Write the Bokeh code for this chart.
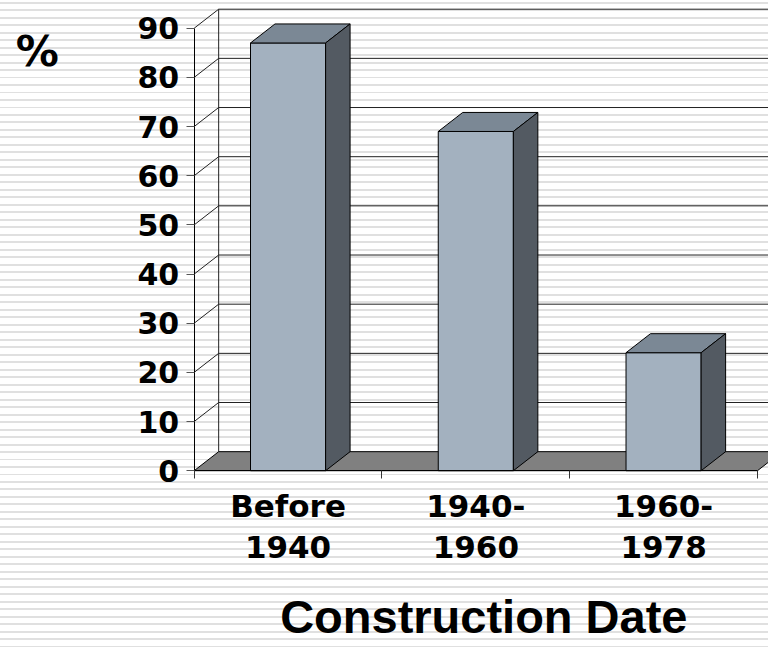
import numpy as np
from bokeh.plotting import figure
from bokeh.models import Range1d, FixedTicker, Label
from bokeh.embed import file_html
from bokeh.resources import INLINE

# ---- data ----
categories = ["Before\n1940", "1940-\n1960", "1960-\n1978"]
percent = [87, 69, 24]
y_ticks = [0, 10, 20, 30, 40, 50, 60, 70, 80, 90]
y_title = "%"
x_title = "Construction Date"

# ---- style constants ----
DX = 0.1304      # depth offset in category units
DY = 3.87        # depth offset in value units
BAR_W = 0.40
FRONT = "#A3B1BF"
TOP = "#7B8895"
SIDE = "#535A62"
FLOOR = "#808080"
GRID = "#222222"
N = len(categories)

p = figure(width=768, height=647, output_backend="svg", toolbar_location=None,
           x_range=Range1d(-1.0315, 3.0588), y_range=Range1d(-35.96, 95.64),
           min_border=0, min_border_left=0, min_border_right=0,
           min_border_top=0, min_border_bottom=0,
           background_fill_color=None, border_fill_color=None,
           outline_line_color=None)
p.grid.visible = False
p.styles = {
    "background-image": "repeating-linear-gradient(to bottom, #ffffff 0px, #ffffff 1.65px, "
                        "#e0e0e0 1.65px, #e0e0e0 3.6px, #ffffff 3.6px, #ffffff 7.49px)",
}

# y axis (front edge of the 3-D box)
ya = p.yaxis[0]
ya.fixed_location = 0
ya.ticker = FixedTicker(ticks=y_ticks)
ya.bounds = (0, max(y_ticks))
ya.major_tick_out = 8
ya.major_tick_in = 0
ya.minor_tick_line_color = None
ya.major_tick_line_color = "#555555"
ya.axis_line_color = "black"
ya.major_label_standoff = 7
ya.major_label_text_font = "DejaVu Sans"
ya.major_label_text_font_style = "bold"
ya.major_label_text_font_size = "30px"
ya.major_label_text_color = "black"

# x axis (categories centred between boundary ticks)
xa = p.xaxis[0]
xa.fixed_location = 0
centers = [i + 0.5 for i in range(N)]
xa.ticker = FixedTicker(ticks=centers, minor_ticks=list(range(N + 1)))
xa.major_label_overrides = {c: lab for c, lab in zip(centers, categories)}
xa.bounds = (0, N)
xa.major_tick_line_color = None
xa.major_tick_out = 0
xa.major_tick_in = 0
xa.minor_tick_out = 8
xa.minor_tick_in = 0
xa.minor_tick_line_color = "#333333"
xa.axis_line_color = "black"
xa.major_label_standoff = 9
xa.major_label_text_font = "DejaVu Sans"
xa.major_label_text_font_style = "bold"
xa.major_label_text_font_size = "31px"
xa.major_label_text_line_height = 1.15
xa.major_label_text_color = "black"

# left wall diagonals
gy = y_ticks[1:]
p.segment(x0=[0] * len(gy), y0=gy, x1=[DX] * len(gy), y1=[v + DY for v in gy],
          line_color=GRID, line_width=1)
# back wall gridlines
p.segment(x0=[DX] * len(gy), y0=[v + DY for v in gy], x1=[N + DX + 1] * len(gy),
          y1=[v + DY for v in gy], line_color=GRID, line_width=1)
# back wall left edge
p.segment(x0=[DX], y0=[DY], x1=[DX], y1=[max(y_ticks) + DY],
          line_color=GRID, line_width=1)

# floor
p.patch([0, N, N + DX, DX], [0, 0, DY, DY], fill_color=FLOOR,
        line_color="black", line_width=1)

# bars
left = [c - BAR_W / 2 for c in centers]
right = [c + BAR_W / 2 for c in centers]
p.quad(left=left, right=right, bottom=0, top=percent,
       fill_color=FRONT, line_color="black", line_width=1)
top_xs = [[l, r, r + DX, l + DX] for l, r in zip(left, right)]
top_ys = [[v, v, v + DY, v + DY] for v in percent]
p.patches(top_xs, top_ys, fill_color=TOP, line_color="black", line_width=1)
side_xs = [[r, r + DX, r + DX, r] for r in right]
side_ys = [[0, DY, v + DY, v] for v in percent]
p.patches(side_xs, side_ys, fill_color=SIDE, line_color="black", line_width=1)

# titles
p.add_layout(Label(x=-0.9505, y=85.3, text=y_title, text_font="DejaVu Sans",
                   text_font_style="bold", text_font_size="43px",
                   text_color="black", text_baseline="alphabetic", text_align="left"))
p.add_layout(Label(x=1.5426, y=-29.6, text=x_title, text_font="Liberation Sans",
                   text_font_style="bold", text_font_size="47px",
                   text_color="black", text_baseline="alphabetic", text_align="center"))

open("out.html", "w").write(file_html(p, INLINE))
